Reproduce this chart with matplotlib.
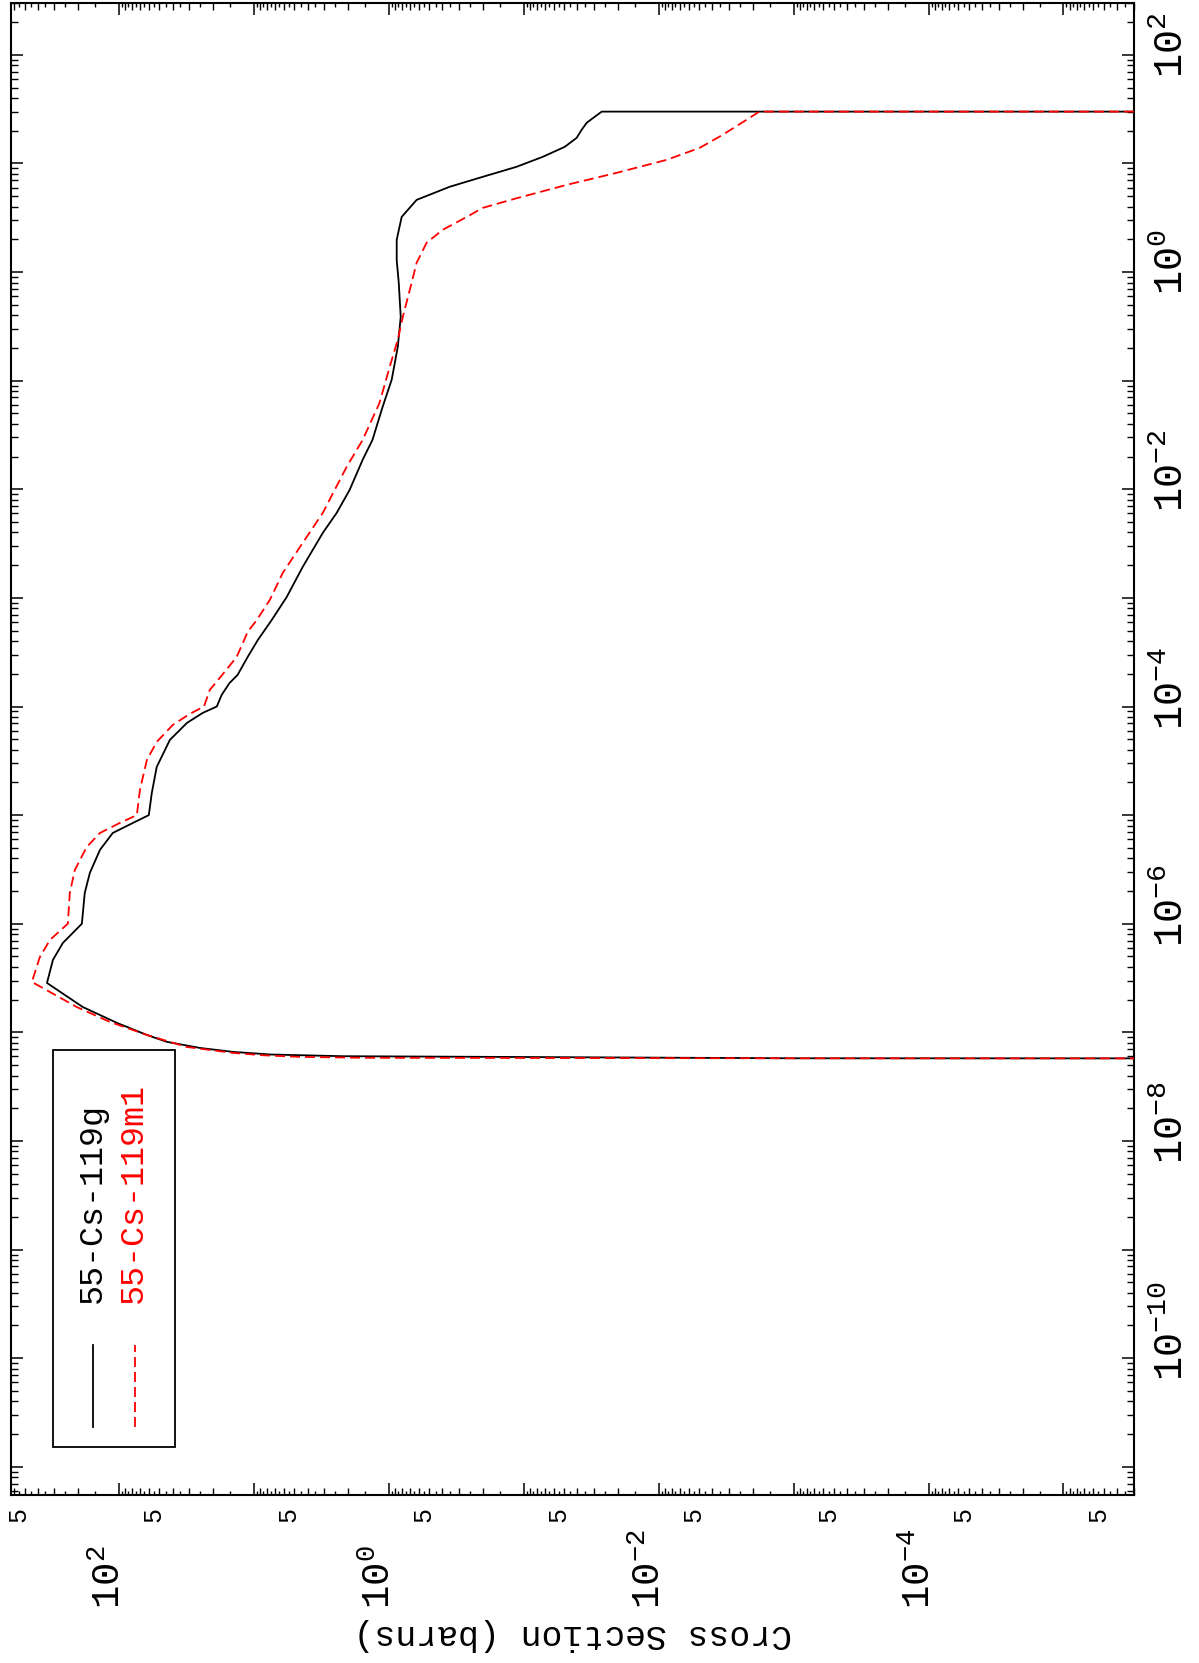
import numpy as np
import matplotlib
matplotlib.use("Agg")
import matplotlib.pyplot as plt
from matplotlib.transforms import blended_transform_factory, ScaledTranslation
from matplotlib.ticker import FixedLocator, NullFormatter
from matplotlib.patches import Rectangle

# ---------------- data (energy in MeV, cross section in barns) ----------------
energy_g = [5.75e-8, 5.77e-8, 5.94e-8, 6.03e-8, 6.25e-8, 6.61e-8, 7.18e-8, 8.17e-8, 9.46e-8,
            1.22e-7, 1.71e-7, 2.85e-7, 4.65e-7, 6.65e-7, 1.0e-6, 1.92e-6, 2.94e-6,
            4.79e-6, 6.85e-6, 8.47e-6, 1.0e-5, 1.6e-5, 2.78e-5, 4.92e-5, 7.06e-5,
            8.73e-5, 1.0e-4, 1.28e-4, 1.65e-4, 1.95e-4, 2.86e-4, 4.1e-4, 6.27e-4,
            1.02e-3, 1.93e-3, 3.97e-3, 6.07e-3, 9.86e-3, 1.87e-2, 2.85e-2, 5.74e-2,
            0.102, 0.205, 0.386, 0.796, 1.29, 1.98, 3.22, 4.62, 6.1, 7.53, 9.31,
            11.5, 14.2, 17.2, 20.4, 23.7, 30.0, 30.0]
xs_g = [1e-8, 1e-3, 0.15, 2.2, 7.5, 14.3, 25.0, 44.0, 62.0,
        103.0, 185.0, 341.0, 308.0, 260.0, 188.0, 179.0, 164.0,
        138.0, 111.0, 78.7, 60.0, 57.0, 52.4, 41.9, 31.3,
        23.9, 18.8, 17.3, 15.1, 13.2, 11.1, 9.33, 7.36,
        5.70, 4.34, 3.08, 2.43, 1.95, 1.56, 1.32, 1.11,
        0.951, 0.857, 0.815, 0.843, 0.873, 0.873, 0.802, 0.621, 0.353, 0.201, 0.113,
        0.0723, 0.0497, 0.0405, 0.0372, 0.0341, 0.0264, 1e-8]

energy_m1 = [5.75e-8, 5.77e-8, 5.83e-8, 5.94e-8, 6.15e-8, 6.47e-8, 7.33e-8, 9.46e-8, 1.25e-7,
             1.71e-7, 2.56e-7, 2.91e-7, 4.94e-7, 7.1e-7, 1.0e-6, 1.92e-6, 3.13e-6,
             5.09e-6, 6.85e-6, 8.47e-6, 1.0e-5, 1.71e-5, 3.22e-5, 4.72e-5, 6.78e-5,
             8.55e-5, 1.0e-4, 1.42e-4, 1.83e-4, 2.86e-4, 4.86e-4, 6.27e-4, 9.6e-4,
             1.7e-3, 3.21e-3, 6.07e-3, 1.61e-2, 2.85e-2, 6.25e-2, 0.134, 0.238,
             0.386, 0.686, 1.22, 1.86, 2.45, 3.22, 3.9, 4.72, 6.35, 8.19, 10.8,
             13.9, 18.3, 30.0, 30.0]
xs_m1 = [1e-8, 1e-3, 1.46, 4.56, 8.5, 14.3, 31.3, 62.0, 117.0,
         205.0, 366.0, 441.0, 385.0, 324.0, 239.0, 231.0, 212.0,
         173.0, 138.0, 98.4, 73.6, 69.8, 62.0, 52.4, 39.8,
         29.8, 23.4, 21.2, 17.9, 13.4, 11.1, 9.5, 7.6,
         6.1, 4.34, 3.08, 2.05, 1.56, 1.17, 0.984, 0.857,
         0.787, 0.698, 0.621, 0.524, 0.398, 0.264, 0.201, 0.117, 0.048, 0.0205, 8.7e-3,
         4.97e-3, 3.36e-3, 1.79e-3, 1e-8]

series_labels = ["55-Cs-119g", "55-Cs-119m1"]
series_colors = ["black", "red"]
xs_label_exponents = [2, 0, -2, -4]
energy_label_exponents = [2, 0, -2, -4, -6, -8, -10]
y_label = "Cross Section (barns)"

# ---------------- style ----------------
plt.rcParams["font.family"] = ["Liberation Mono", "DejaVu Sans"]
plt.rcParams["mathtext.fontset"] = "custom"
plt.rcParams["mathtext.rm"] = "Liberation Mono"
plt.rcParams["mathtext.it"] = "Liberation Mono"
plt.rcParams["mathtext.bf"] = "Liberation Mono"
plt.rcParams["lines.scale_dashes"] = False

W, H = 1199, 1663
fig = plt.figure(figsize=(W / 100, H / 100), dpi=100)
ax_l, ax_r, ax_t, ax_b = 11, 1134, 3, 1495
ax = fig.add_axes([ax_l / W, 1 - ax_b / H, (ax_r - ax_l) / W, (ax_b - ax_t) / H])

ax.set_xscale("log")
ax.set_yscale("log")
ax.set_xlim(630, 3.0e-6)
ax.set_ylim(5.5e-12, 300)

lw = 1.3
dash = (7.2, 3.6)
ax.plot(xs_g, energy_g, color=series_colors[0], lw=lw, zorder=3)
ax.plot(xs_m1, energy_m1, color=series_colors[1], lw=lw, dashes=dash, zorder=4)

for s in ax.spines.values():
    s.set_linewidth(1.5)

# ticks
dec_x = [10.0 ** k for k in range(-6, 4)]
dec_y = [10.0 ** k for k in range(-12, 4)]
ax.xaxis.set_major_locator(FixedLocator(dec_x))
ax.yaxis.set_major_locator(FixedLocator(dec_y))
ax.xaxis.set_minor_locator(FixedLocator([m * 10.0 ** k for k in range(-7, 4) for m in range(2, 10)]))
ax.yaxis.set_minor_locator(FixedLocator([m * 10.0 ** k for k in range(-13, 4) for m in range(2, 10)]))
for axis in (ax.xaxis, ax.yaxis):
    axis.set_major_formatter(NullFormatter())
    axis.set_minor_formatter(NullFormatter())
ax.tick_params(which="both", direction="in", top=True, bottom=True, left=True, right=True,
               labelbottom=False, labeltop=False, labelleft=False, labelright=False)
ax.tick_params(which="major", length=8.6, width=1.1)
ax.tick_params(which="minor", length=5.0, width=1.0)

# half-decade minor ticks on cross-section axis
half = [m * 10.0 ** k for k in range(-7, 4) for m in np.arange(1.5, 10, 1.0)]
half = [v for v in half if 3.0e-6 < v < 630]
bx = blended_transform_factory(ax.transData, ax.transAxes)
hl = 4.0 / (ax_b - ax_t)
ax.vlines(half, 0, hl, transform=bx, color="black", lw=1.0, clip_on=False)
ax.vlines(half, 1 - hl, 1, transform=bx, color="black", lw=1.0, clip_on=False)

def px(dx, dy):
    return ScaledTranslation(dx / 100, dy / 100, fig.dpi_scale_trans)

# bottom tick labels (cross section)
for k in xs_label_exponents:
    ax.text(10.0 ** k, 0, r"$10^{%d}$" % k, transform=bx + px(1, -114), rotation=90,
            rotation_mode="anchor", ha="left", va="baseline", fontsize=28)
for k in range(-6, 3):
    v = 5 * 10.0 ** k
    if 3.0e-6 < v < 630:
        ax.text(v, 0, "5", transform=bx + px(1, -27), rotation=90,
                rotation_mode="anchor", ha="left", va="baseline", fontsize=18)

# right tick labels (energy)
by = blended_transform_factory(ax.transAxes, ax.transData)
for k in energy_label_exponents:
    ax.text(1, 10.0 ** k, r"$10^{%d}$" % k, transform=by + px(49, -23), rotation=90,
            rotation_mode="anchor", ha="left", va="baseline", fontsize=29)

# axis label (upside down)
ax.text(0.5, 0, y_label, transform=ax.transAxes + px(0, -140), rotation=180,
        ha="center", va="center", fontsize=25)

# legend (drawn rotated like the rest of the page)
ax.add_patch(Rectangle((0.0374, 0.0322), 0.1086, 0.2658, transform=ax.transAxes,
                       fill=False, lw=1.3, ec="black", zorder=5))
ax.plot([0.073, 0.073], [0.0456, 0.1005], transform=ax.transAxes, color=series_colors[0], lw=lw)
ax.plot([0.110, 0.110], [0.0456, 0.1005], transform=ax.transAxes, color=series_colors[1],
        lw=lw, dashes=dash)
ax.text(0.0801, 0.1287, series_labels[0], transform=ax.transAxes, rotation=90,
        rotation_mode="anchor", ha="left", va="baseline", fontsize=24, color=series_colors[0])
ax.text(0.1167, 0.1287, series_labels[1], transform=ax.transAxes, rotation=90,
        rotation_mode="anchor", ha="left", va="baseline", fontsize=24, color=series_colors[1])

fig.savefig("out.png", dpi=100)
